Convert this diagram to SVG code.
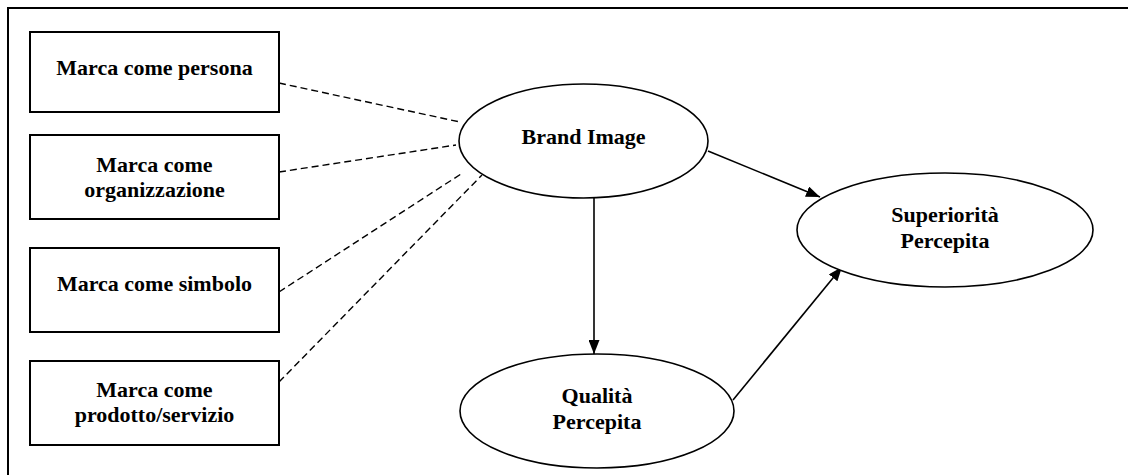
<svg xmlns="http://www.w3.org/2000/svg" width="1128" height="475" viewBox="0 0 1128 475">
<defs>
<style>
.box{fill:#fff;stroke:#000;stroke-width:2}
.ell{fill:#fff;stroke:#000;stroke-width:1.6}
.t{font-family:"Liberation Serif","Times New Roman",serif;font-weight:bold;font-size:22px;fill:#000;text-anchor:middle}
.dash{fill:none;stroke:#000;stroke-width:1.4;stroke-dasharray:7,4}
.arr{fill:none;stroke:#000;stroke-width:1.6;marker-end:url(#ah)}
</style>
<marker id="ah" viewBox="0 0 14 11" refX="14" refY="5.5" markerWidth="14" markerHeight="11" markerUnits="userSpaceOnUse" orient="auto">
<path d="M0,0 L14,5.5 L0,11 Z" fill="#000"/>
</marker>
</defs>
<rect width="1128" height="475" fill="#fff"/>
<path d="M8,475 V8 H1128" fill="none" stroke="#000" stroke-width="2"/>
<g id="connectors">
<line class="dash" x1="279" y1="83" x2="460" y2="122"/>
<line class="dash" x1="279" y1="172" x2="456" y2="145"/>
<line class="dash" x1="279" y1="292" x2="461" y2="174"/>
<line class="dash" x1="279" y1="382" x2="482" y2="175"/>
<line class="arr" x1="708" y1="151" x2="820" y2="197"/>
<line class="arr" x1="594" y1="198" x2="594" y2="354"/>
<line class="arr" x1="733" y1="400" x2="842" y2="267"/>
</g>
<g id="box1">
<rect class="box" x="30" y="32" width="249" height="80"/>
<text class="t" x="154.5" y="75">Marca come persona</text>
</g>
<g id="box2">
<rect class="box" x="30" y="135" width="249" height="84"/>
<text class="t" x="154.5" y="172">Marca come</text>
<text class="t" x="154.5" y="197">organizzazione</text>
</g>
<g id="box3">
<rect class="box" x="30" y="248" width="249" height="84"/>
<text class="t" x="154.5" y="291">Marca come simbolo</text>
</g>
<g id="box4">
<rect class="box" x="30" y="361" width="249" height="84"/>
<text class="t" x="154.5" y="397">Marca come</text>
<text class="t" x="154.5" y="422">prodotto/servizio</text>
</g>
<g id="brand">
<ellipse class="ell" cx="583.5" cy="141" rx="124.5" ry="57"/>
<text class="t" x="583.5" y="144">Brand Image</text>
</g>
<g id="superiorita">
<ellipse class="ell" cx="945" cy="230" rx="148" ry="57"/>
<text class="t" x="945" y="222">Superiorità</text>
<text class="t" x="945" y="248">Percepita</text>
</g>
<g id="qualita">
<ellipse class="ell" cx="597" cy="411" rx="137" ry="57"/>
<text class="t" x="597" y="403">Qualità</text>
<text class="t" x="597" y="429">Percepita</text>
</g>
</svg>
